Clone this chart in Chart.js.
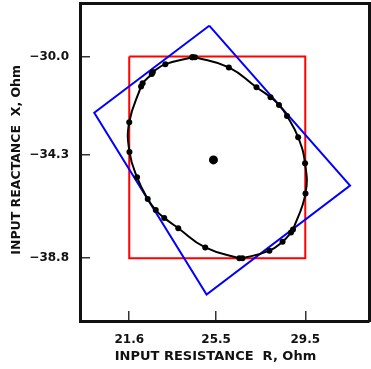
<!DOCTYPE html>
<html>
<head>
<meta charset="utf-8">
<script src="https://cdn.jsdelivr.net/npm/chart.js@4"></script>
<style>
html,body{margin:0;padding:0;background:#fff;}
canvas{display:block;}
</style>
</head>
<body>
<canvas id="c" width="371" height="369"></canvas>
<script>
// Measured impedance locus (R, X in Ohm), clockwise from the top
const curveR = [24.43,24.55,26.07,27.31,27.94,28.32,28.68,29.18,29.49,29.51,28.95,28.86,28.48,27.89,26.68,26.54,25.01,23.80,23.17,22.79,22.43,21.95,21.61,21.60,22.13,22.20,22.61,22.66,23.22];
const curveX = [-30.03,-30.03,-30.47,-31.34,-31.77,-32.11,-32.59,-33.52,-34.66,-35.97,-37.55,-37.68,-38.08,-38.47,-38.80,-38.80,-38.33,-37.49,-37.04,-36.70,-36.21,-35.27,-34.16,-32.86,-31.30,-31.16,-30.76,-30.67,-30.33];
// Center point
const centerR = [25.38];
const centerX = [-34.51];
// Bounding (red) rectangle
const redR = [21.6,29.5,29.5,21.6,21.6];
const redX = [-30.0,-30.0,-38.8,-38.8,-30.0];
// Rotated (blue) rectangle
const blueR = [25.19,31.51,25.07,20.03,25.19];
const blueX = [-28.65,-35.63,-40.38,-32.45,-28.65];
// Tick labels
const rTicks = [21.6,25.5,29.5];
const xTicks = [-30.0,-34.3,-38.8];

const pts = (a,b)=>a.map((v,i)=>({x:v,y:b[i]}));
const curvePts = pts(curveR,curveX); curvePts.push(curvePts[0]);

const FONT = "'DejaVu Sans', Verdana, sans-serif";
const fmt = v => (v<0?'\u2212':'') + Math.abs(v).toFixed(1);
const noPad = s => { s.paddingTop=0; s.paddingBottom=0; s.paddingLeft=0; s.paddingRight=0; };
const NB = '\u00A0';

new Chart(document.getElementById('c'), {
  type:'scatter',
  data:{datasets:[
    {data:curvePts, showLine:true, tension:0.45, borderColor:'#000', borderWidth:2,
     pointRadius:3, pointBackgroundColor:'#000', pointBorderColor:'#000', pointBorderWidth:0},
    {data:pts(centerR,centerX), pointRadius:4.5, pointBackgroundColor:'#000', pointBorderWidth:0},
    {data:pts(blueR,blueX), showLine:true, tension:0, borderColor:'#0000ff', borderWidth:2, pointRadius:0},
    {data:pts(redR,redX), showLine:true, tension:0, borderColor:'#ff0000', borderWidth:2, pointRadius:0}
  ]},
  options:{
    responsive:false, animation:false, events:[],
    layout:{padding:0, autoPadding:false},
    plugins:{legend:{display:false}, tooltip:{enabled:false}},
    scales:{
      x:{type:'linear', position:'bottom', min:19.39, max:32.36,
        afterBuildTicks:s=>{s.ticks=rTicks.map(v=>({value:v}));},
        afterFit:s=>{s.height=48; noPad(s);},
        grid:{drawOnChartArea:false, drawTicks:true, tickLength:-10, color:'#333', tickColor:'#333', tickWidth:1.5, lineWidth:1.5},
        border:{display:true, color:'#111', width:3},
        ticks:{padding:22, color:'#111', font:{family:FONT, size:12, weight:'bold'}, maxRotation:0, callback:v=>fmt(v)},
        title:{display:true, text:'INPUT RESISTANCE  R, Ohm'+NB+NB+NB+NB, color:'#111', padding:{top:0,bottom:5}, font:{family:FONT, size:13, weight:'bold'}}
      },
      y:{type:'linear', position:'left', min:-41.54, max:-27.66,
        afterBuildTicks:s=>{s.ticks=xTicks.map(v=>({value:v}));},
        afterFit:s=>{s.width=80; noPad(s);},
        grid:{drawOnChartArea:false, drawTicks:true, tickLength:-10, color:'#333', tickColor:'#333', tickWidth:1.5, lineWidth:1.5},
        border:{display:true, color:'#111', width:3},
        ticks:{padding:21, color:'#111', font:{family:FONT, size:12, weight:'bold'}, callback:v=>fmt(v)},
        title:{display:true, text:NB+'INPUT REACTANCE  X, Ohm', color:'#111', padding:{top:9,bottom:0}, font:{family:FONT, size:12.5, weight:'bold'}}
      },
      xTop:{type:'linear', position:'top', min:19.39, max:32.36,
        afterFit:s=>{s.height=3; noPad(s);},
        grid:{display:false, drawTicks:false},
        border:{display:true, color:'#111', width:3},
        ticks:{display:false}
      },
      yRight:{type:'linear', position:'right', min:-41.54, max:-27.66,
        afterFit:s=>{s.width=2; noPad(s);},
        grid:{display:false, drawTicks:false},
        border:{display:true, color:'#111', width:3},
        ticks:{display:false}
      }
    }
  }
});
</script>
</body>
</html>
